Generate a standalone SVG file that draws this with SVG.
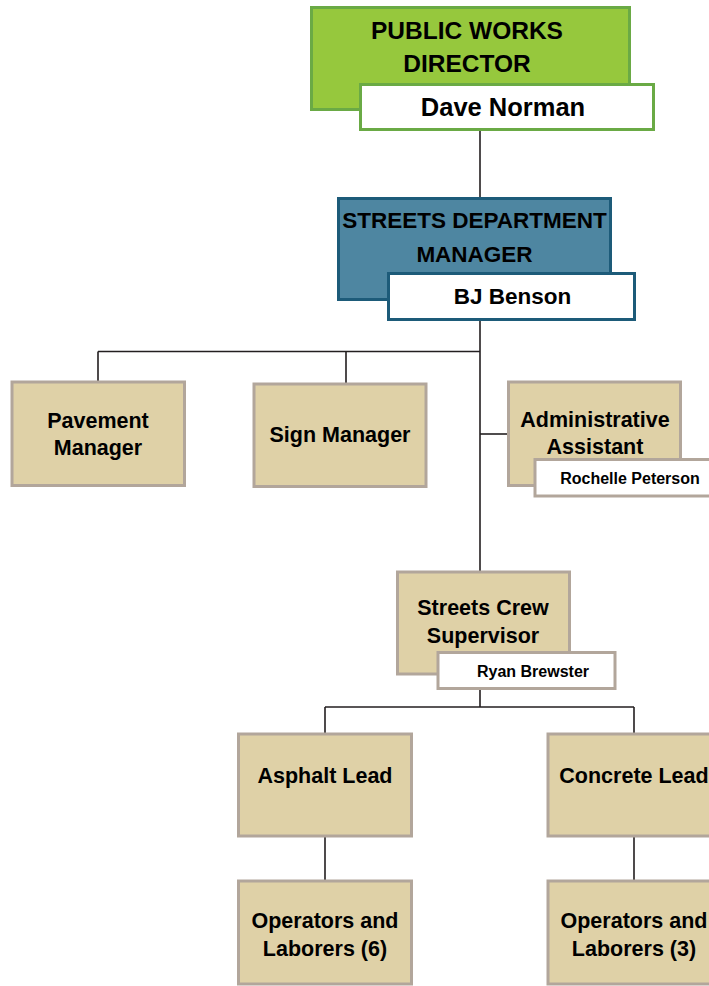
<svg xmlns="http://www.w3.org/2000/svg" width="709" height="986" viewBox="0 0 709 986">
<style>
text{font-family:"Liberation Sans",Arial,sans-serif;font-weight:bold;fill:#000;text-anchor:middle}
.ln{stroke:#231f20;stroke-width:1.6;fill:none}
.green{fill:#96c83d;stroke:#6aaa45;stroke-width:3}
.gname{fill:#fff;stroke:#6aaa45;stroke-width:3}
.teal{fill:#4e86a1;stroke:#1d5b79;stroke-width:3}
.tname{fill:#fff;stroke:#1d5b79;stroke-width:3}
.tan{fill:#dfd1a7;stroke:#b2a69b;stroke-width:3}
.tanname{fill:#fff;stroke:#b2a69b;stroke-width:3}
.t21{font-size:21.5px}
.t16{font-size:16px}
</style>
<rect width="709" height="986" fill="#fff"/>
<g id="connectors">
<path class="ln" d="M480 130V198"/>
<path class="ln" d="M480 321V572"/>
<path class="ln" d="M98 351.5H480M98 351.5V381M346 351.5V383"/>
<path class="ln" d="M480 434H508"/>
<path class="ln" d="M480 689V707M325 707H634M325 707V733M634 707V733"/>
<path class="ln" d="M325 837V880M634 837V880"/>
</g>
<g id="director">
<rect class="green" x="311.5" y="7.5" width="318" height="102"/>
<text x="467" y="39" font-size="24.5">PUBLIC WORKS</text>
<text x="467" y="72" font-size="24.5">DIRECTOR</text>
<rect class="gname" x="360.5" y="84.5" width="293" height="45"/>
<text x="503" y="116" font-size="25.5">Dave Norman</text>
</g>
<g id="streets-manager">
<rect class="teal" x="338.5" y="198.5" width="272" height="101"/>
<text x="474.5" y="228" font-size="22.5">STREETS DEPARTMENT</text>
<text x="474.5" y="262" font-size="22.5">MANAGER</text>
<rect class="tname" x="388.5" y="273.5" width="246" height="46"/>
<text x="512.5" y="304" font-size="22.5">BJ Benson</text>
</g>
<g id="pavement">
<rect class="tan" x="12" y="382" width="172.5" height="103.5"/>
<text class="t21" x="98" y="428">Pavement</text>
<text class="t21" x="98" y="455">Manager</text>
</g>
<g id="sign">
<rect class="tan" x="254" y="384" width="172" height="102.5"/>
<text class="t21" x="340" y="442">Sign Manager</text>
</g>
<g id="admin">
<rect class="tan" x="508.5" y="382" width="172" height="103.5"/>
<text class="t21" x="595" y="427">Administrative</text>
<text class="t21" x="595" y="454">Assistant</text>
<rect class="tanname" x="535" y="459.5" width="180" height="36.5"/>
<text class="t16" x="630" y="484">Rochelle Peterson</text>
</g>
<g id="crew-supervisor">
<rect class="tan" x="397.5" y="572" width="172" height="102"/>
<text class="t21" x="483" y="615">Streets Crew</text>
<text class="t21" x="483" y="643">Supervisor</text>
<rect class="tanname" x="438" y="652.5" width="177" height="36"/>
<text class="t16" x="533" y="677">Ryan Brewster</text>
</g>
<g id="asphalt">
<rect class="tan" x="238.5" y="734" width="173" height="102"/>
<text class="t21" x="325" y="783">Asphalt Lead</text>
</g>
<g id="concrete">
<rect class="tan" x="548" y="734" width="175" height="102"/>
<text class="t21" x="634" y="783">Concrete Lead</text>
</g>
<g id="asphalt-crew">
<rect class="tan" x="238.5" y="881" width="173" height="103"/>
<text class="t21" x="325" y="928">Operators and</text>
<text class="t21" x="325" y="956">Laborers (6)</text>
</g>
<g id="concrete-crew">
<rect class="tan" x="548" y="881" width="175" height="103"/>
<text class="t21" x="634" y="928">Operators and</text>
<text class="t21" x="634" y="956">Laborers (3)</text>
</g>
</svg>
